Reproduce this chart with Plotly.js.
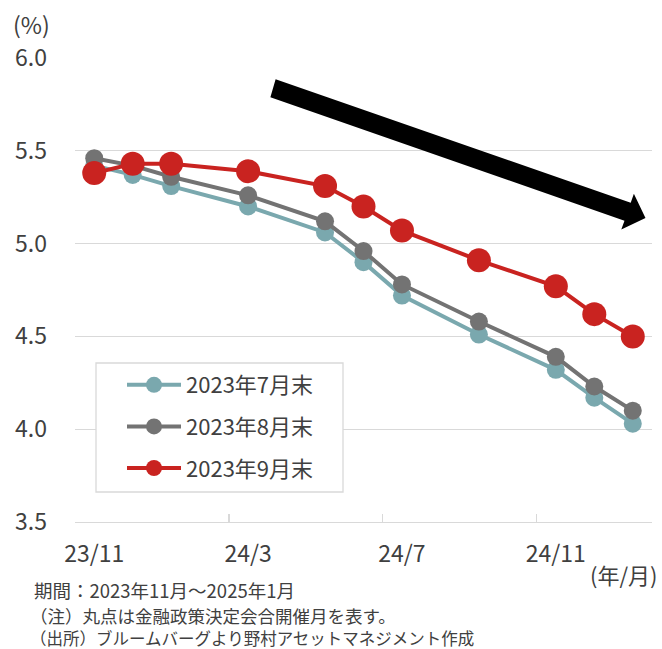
<!DOCTYPE html>
<html>
<head>
<meta charset="utf-8">
<script src="https://cdn.plot.ly/plotly-3.0.1.min.js"></script>
<style>html,body{margin:0;padding:0;background:#fff;}#chart{width:662px;height:649px;}</style>
</head>
<body>
<div id="chart"></div>
<script>
// All months on the axis (category slots)
var months = ['23/11','23/12','24/1','24/2','24/3','24/4','24/5','24/6','24/7','24/8','24/9','24/10','24/11','24/12','25/1'];
// Months with a policy meeting (points)
var meetingMonths = ['23/11','23/12','24/1','24/3','24/5','24/6','24/7','24/9','24/11','24/12','25/1'];
// Labelled months
var tickMonths = ['23/11','24/3','24/7','24/11'];
// Series (%)
var julEnd = [5.42, 5.37, 5.31, 5.20, 5.06, 4.90, 4.72, 4.51, 4.32, 4.17, 4.03];
var augEnd = [5.46, 5.42, 5.36, 5.26, 5.12, 4.96, 4.78, 4.58, 4.39, 4.23, 4.10];
var sepEnd = [5.38, 5.43, 5.43, 5.39, 5.31, 5.20, 5.07, 4.91, 4.77, 4.62, 4.50];
var seriesNames = ['2023年7月末', '2023年8月末', '2023年9月末'];

var xIdx = meetingMonths.map(function(m){ return months.indexOf(m); });
var tickIdx = tickMonths.map(function(m){ return months.indexOf(m); });
var boundaryIdx = tickIdx.slice(1).map(function(i){ return i - 0.5; });

var FONT = '"Noto Sans CJK JP", "Noto Sans", sans-serif';
var TXT = '#404040';

function mk(name, y, color, msize, lg) {
  return {
    type: 'scatter', mode: 'lines+markers', name: name,
    x: xIdx, y: y, legendgroup: lg,
    line: {color: color, width: 4},
    marker: {color: color, size: msize}
  };
}
var data = [
  mk(seriesNames[0], julEnd, '#7aa8ae', 18, 'a'),
  mk(seriesNames[1], augEnd, '#737373', 18, 'b'),
  mk(seriesNames[2], sepEnd, '#c92320', 24, 'c')
];

var L = 75, R = 10, T = 58, B = 127, W = 662, H = 649;
var layout = {
  width: W, height: H,
  margin: {l: L, r: R, t: T, b: B, pad: 0},
  paper_bgcolor: '#fff', plot_bgcolor: '#fff',
  font: {family: FONT, color: TXT, size: 22},
  showlegend: true,
  legend: {
    x: (122 - L) / (W - L - R), y: (522 - 364) / (H - T - B), xanchor: 'left', yanchor: 'top',
    bgcolor: 'rgba(0,0,0,0)', borderwidth: 0,
    font: {family: FONT, size: 22, color: TXT},
    itemwidth: 54, tracegroupgap: 10
  },
  xaxis: {
    type: 'linear', range: [-0.5, 14.5], fixedrange: true,
    tickmode: 'array', tickvals: tickIdx, ticktext: tickMonths,
    ticks: '', showgrid: false, zeroline: false,
    showline: true, linecolor: '#d9d9d9', linewidth: 1.3,
    ticklabelstandoff: 11,
    tickfont: {family: FONT, size: 23, color: TXT},
    minor: {tickmode: 'array', tickvals: boundaryIdx, ticks: 'inside', ticklen: 8, tickcolor: '#d9d9d9', tickwidth: 1.3, showgrid: false}
  },
  yaxis: {
    range: [3.5, 6.0], dtick: 0.5, tick0: 3.5, tickformat: '.1f', fixedrange: true,
    ticks: '', showgrid: true, gridcolor: '#d9d9d9', gridwidth: 1.3, zeroline: false, showline: false,
    ticklabelstandoff: 27,
    tickfont: {family: FONT, size: 23, color: TXT}
  },
  shapes: [
    {type: 'rect', xref: 'paper', yref: 'paper', layer: 'above',
     x0: (96 - L) / (W - L - R), x1: (343 - L) / (W - L - R),
     y0: (522 - 492) / (H - T - B), y1: (522 - 363) / (H - T - B),
     fillcolor: '#ffffff', line: {color: '#d9d9d9', width: 1.3}},
    {type: 'path', xref: 'paper', yref: 'paper', layer: 'above',
     path: 'M0.3477,0.9541 L0.9631,0.6881 L0.9686,0.7073 L0.9887,0.6552 L0.9468,0.6302 L0.9523,0.6494 L0.3386,0.9153 Z',
     fillcolor: '#000000', line: {width: 0}}
  ],
  annotations: [
    {text: '(%)', xref: 'paper', yref: 'paper', x: (11 - L) / (W - L - R), y: (522 - 24) / (H - T - B),
     xanchor: 'left', yanchor: 'middle', showarrow: false, font: {family: FONT, size: 23, color: TXT}},
    {text: '(年/月)', xref: 'paper', yref: 'paper', x: (660 - L) / (W - L - R), y: (522 - 574) / (H - T - B),
     xanchor: 'right', yanchor: 'middle', showarrow: false, font: {family: FONT, size: 22, color: TXT}},
    {text: '期間：2023年11月～2025年1月', xref: 'paper', yref: 'paper', x: (32 - L) / (W - L - R), y: (522 - 590) / (H - T - B),
     xanchor: 'left', yanchor: 'middle', showarrow: false, font: {family: FONT, size: 18.5, color: TXT}},
    {text: '（注）丸点は金融政策決定会合開催月を表す。', xref: 'paper', yref: 'paper', x: (28 - L) / (W - L - R), y: (522 - 615) / (H - T - B),
     xanchor: 'left', yanchor: 'middle', showarrow: false, font: {family: FONT, size: 17.5, color: TXT}},
    {text: '（出所）ブルームバーグより野村アセットマネジメント作成', xref: 'paper', yref: 'paper', x: (28 - L) / (W - L - R), y: (522 - 638) / (H - T - B),
     xanchor: 'left', yanchor: 'middle', showarrow: false, font: {family: FONT, size: 16.5, color: TXT}}
  ]
};

Plotly.newPlot('chart', data, layout, {displayModeBar: false, staticPlot: true});
</script>
</body>
</html>
